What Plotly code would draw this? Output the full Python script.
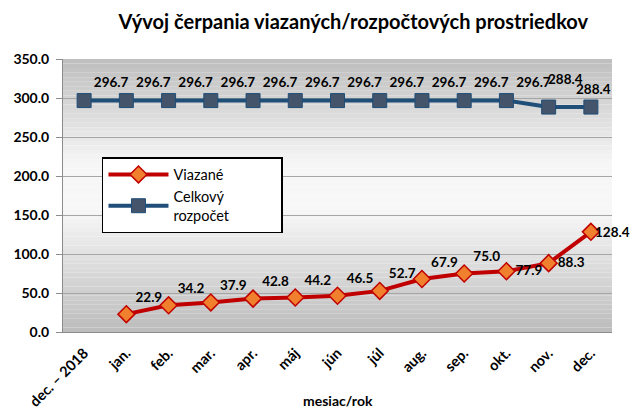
import plotly.graph_objects as go

# Dáta
mesiace = ["dec. – 2018", "jan.", "feb.", "mar.", "apr.", "máj", "jún", "júl",
           "aug.", "sep.", "okt.", "nov.", "dec."]
viazane = [None, 22.9, 34.2, 37.9, 42.8, 44.2, 46.5, 52.7, 67.9, 75.0, 77.9, 88.3, 128.4]
rozpocet = [296.7, 296.7, 296.7, 296.7, 296.7, 296.7, 296.7, 296.7, 296.7, 296.7, 296.7, 288.4, 288.4]
y_ticks = [0, 50, 100, 150, 200, 250, 300, 350]

# Farby
cervena = "#C00000"
oranzova = "#F07F2E"
modra = "#1F4E79"
modra_znacka = "#44546A"
pismo = "Lato"
popis = dict(family=pismo, size=13.5, color="black", weight="bold")

fig = go.Figure()

# posledný popis viazaných a posledné dva popisy rozpočtu idú ako anotácie (vlastný posun)
fig.add_trace(go.Scatter(
    x=mesiace, y=viazane, name="Viazané", legendgroup="v",
    mode="lines+markers+text",
    line=dict(color=cervena, width=4),
    marker=dict(symbol="diamond", size=13, color=oranzova,
                line=dict(color=cervena, width=1.5)),
    text=[None if v is None else f"{v:.1f}" for v in viazane[:-1]] + [None],
    textposition=["top right"] * 10 + ["middle right"] * 3,
    textfont=popis,
    cliponaxis=False,
))

fig.add_trace(go.Scatter(
    x=mesiace, y=rozpocet,
    name="Celkový" + "&nbsp;" * 14 + "<br>rozpočet",
    legendgroup="r",
    mode="lines+markers+text",
    line=dict(color=modra, width=4),
    marker=dict(symbol="square", size=14, color=modra_znacka,
                line=dict(color=modra, width=1)),
    text=[f"{v:.1f}" for v in rozpocet[:-2]] + [None, None],
    textposition="top right",
    textfont=popis,
    cliponaxis=False,
))

anotacie = [
    dict(x=mesiace[-1], y=viazane[-1], text=f"{viazane[-1]:.1f}", xshift=22, yshift=0),
    dict(x=mesiace[-2], y=rozpocet[-2], text=f"{rozpocet[-2]:.1f}", xshift=17, yshift=28),
    dict(x=mesiace[-1], y=rozpocet[-1], text=f"{rozpocet[-1]:.1f}", xshift=3, yshift=18),
]
for a in anotacie:
    a.update(xref="x", yref="y", showarrow=False, font=popis,
             xanchor="center", yanchor="middle")

anotacie.append(dict(text="mesiac/rok", xref="paper", yref="paper",
                     x=0.5, y=-0.25, xanchor="center", yanchor="middle",
                     showarrow=False,
                     font=dict(family=pismo, size=14, color="black", weight="bold")))

# Gradient pozadia plochy grafu (pásy v doméne osí)
def siva(f):
    # f: 0 dole, 1 hore
    body = [(0.0, 188), (0.45, 248), (0.62, 246), (1.0, 190)]
    for (f0, c0), (f1, c1) in zip(body, body[1:]):
        if f0 <= f <= f1:
            c = c0 + (c1 - c0) * (f - f0) / (f1 - f0)
            return f"rgb({int(c)},{int(c)},{int(c)})"
    return "rgb(200,200,200)"

n = 60
shapes = []
for i in range(n):
    shapes.append(dict(type="rect", xref="x domain", yref="y domain",
                       x0=0, x1=1, y0=i / n, y1=(i + 1) / n,
                       fillcolor=siva((i + 0.5) / n), line=dict(width=0),
                       layer="below"))

fig.update_layout(
    width=633, height=409,
    margin=dict(l=63, r=21, t=59, b=77),
    paper_bgcolor="white",
    plot_bgcolor="white",
    shapes=shapes,
    annotations=anotacie,
    title=dict(text="Vývoj čerpania viazaných/rozpočtových prostriedkov",
               x=0.558, xanchor="center", y=0.946, yanchor="middle",
               font=dict(family=pismo, size=20, color="black", weight="bold")),
    legend=dict(x=0.071, y=0.641, xanchor="left", yanchor="top",
                bgcolor="white", bordercolor="black", borderwidth=1.5,
                font=dict(family=pismo, size=14.5, color="black"),
                itemwidth=60, tracegroupgap=0),
    xaxis=dict(
        type="category", range=[-0.5, 12.5],
        tickangle=-45, automargin=False,
        tickfont=dict(family=pismo, size=14.5, color="black", weight="bold"),
        ticklabelstandoff=6,
        showgrid=False,
        showline=True, linecolor="#8C8C8C", linewidth=1,
    ),
    yaxis=dict(
        range=[0, 350], automargin=False,
        tickvals=y_ticks,
        tickformat=".1f",
        tickfont=dict(family=pismo, size=14, color="black", weight="bold"),
        showgrid=True, gridcolor="#A6A6A6", gridwidth=1,
        showline=True, linecolor="#8C8C8C", linewidth=1,
        ticks="outside", ticklen=6, tickcolor="#8C8C8C",
        ticklabelstandoff=4,
        zeroline=False,
    ),
)

fig.write_html("out.html", config={"displayModeBar": False},
               post_script="document.body.style.margin='0px';")
